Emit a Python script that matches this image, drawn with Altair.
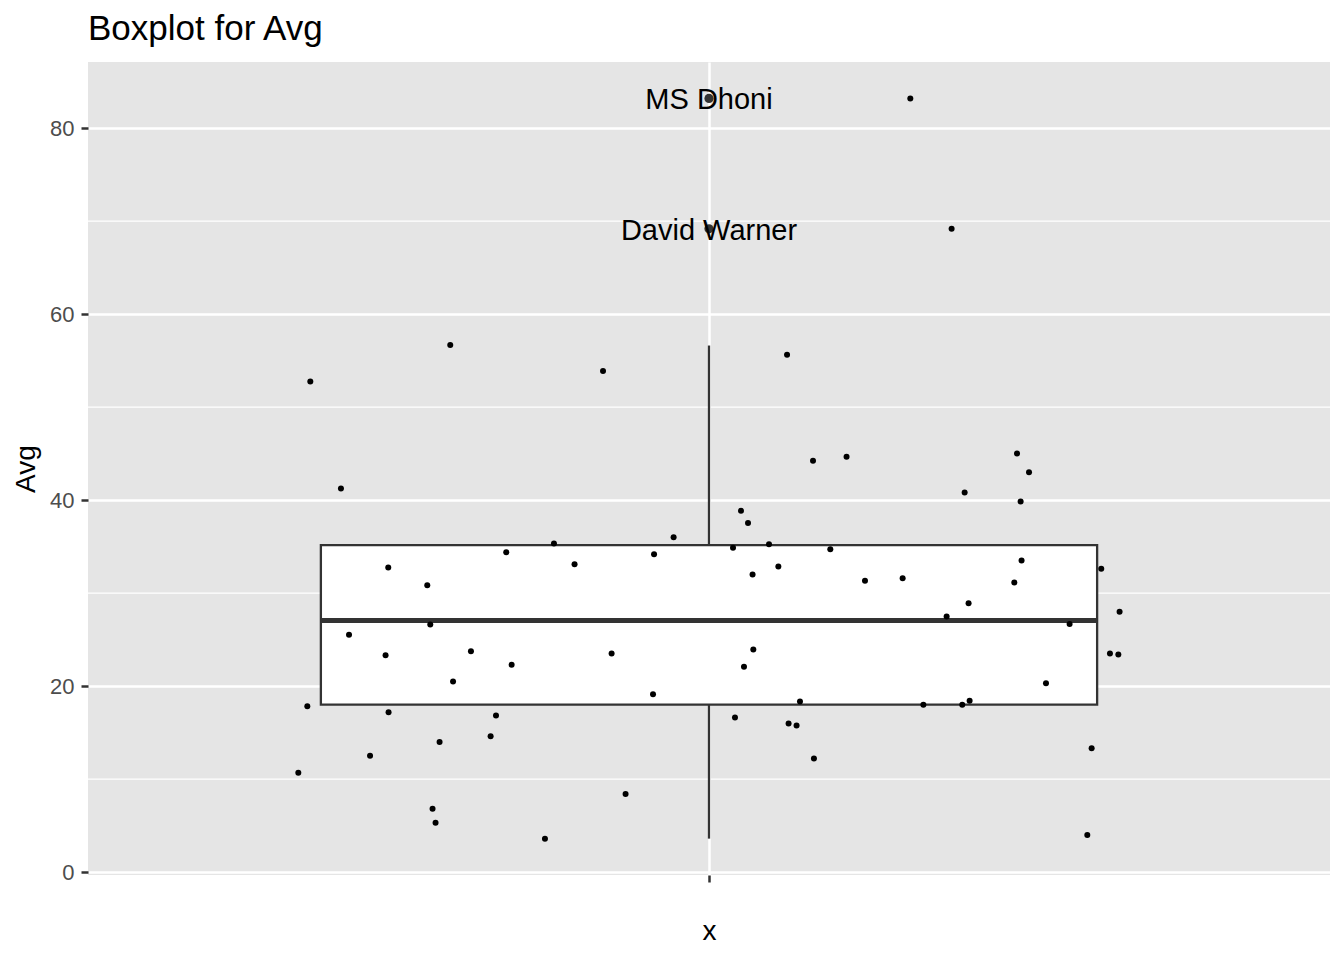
import altair as alt
import pandas as pd

# Jittered batting averages (offset from the box centre, value)
jitter_x = [0.1945, 0.2344, -0.3852, -0.2500, -0.1024, -0.3556, -0.3099, -0.2722,
            -0.1959, -0.1498, -0.1299, -0.0531, -0.0342, -0.3478, -0.2693, -0.3125,
            -0.2300, -0.1907, -0.2473, -0.0941, -0.0541, -0.3881, -0.3096, -0.2058,
            -0.2110, -0.2603, -0.3275, -0.3968, -0.0806, -0.2671, -0.2642, -0.1585,
            0.0754, 0.1005, 0.1329, 0.2976, 0.3092, 0.2470, 0.3011, 0.0309,
            0.0377, 0.0232, 0.0580, 0.1172, 0.0670, 0.0421, 0.1507, 0.1871,
            0.3020, 0.2950, 0.3790, 0.2508, 0.3967, 0.2296, 0.3484, 0.0428,
            0.0338, 0.3874, 0.3955, 0.3256, 0.0879, 0.2071, 0.2447, 0.2518,
            0.0251, 0.0769, 0.0846, 0.1014, 0.3697, 0.3655]
avg = [83.18, 69.17, 52.75, 56.67, 53.87, 41.25, 32.75, 30.86,
       34.41, 35.33, 33.12, 34.19, 36.02, 25.52, 26.62, 23.33,
       23.76, 22.29, 20.49, 23.51, 19.14, 17.85, 17.20, 16.84,
       14.62, 14.01, 12.51, 10.68, 8.42, 6.81, 5.33, 3.61,
       55.62, 44.23, 44.66, 45.01, 43.01, 40.82, 39.85, 38.85,
       37.53, 34.87, 35.27, 34.73, 32.86, 32.00, 31.32, 31.61,
       33.51, 31.14, 32.61, 28.92, 27.99, 27.48, 26.67, 23.94,
       22.08, 23.51, 23.40, 20.32, 18.34, 17.99, 17.99, 18.42,
       16.62, 15.98, 15.76, 12.22, 13.33, 4.01]

# Box summary
whisker_low = 3.61
q1 = 18.02
median = 27.05
q3 = 35.16
whisker_high = 56.62

outlier_names = ["MS Dhoni", "David Warner"]
outlier_avg = [83.18, 69.17]

major_breaks = [0, 20, 40, 60, 80]
minor_breaks = [10, 30, 50, 70]

font = "Liberation Sans"
half_box = 0.375

pts = pd.DataFrame({"jitter": jitter_x, "Avg": avg})
stats = pd.DataFrame({"pos": [0], "left": [-half_box], "right": [half_box],
                      "lower": [whisker_low], "q1": [q1], "median": [median],
                      "q3": [q3], "upper": [whisker_high]})
outliers = pd.DataFrame({"pos": [0] * len(outlier_names), "name": outlier_names, "Avg": outlier_avg})
minor = pd.DataFrame({"v": minor_breaks})

xscale = alt.Scale(domain=[-0.6, 0.6], nice=False, zero=False)
yscale = alt.Scale(domain=[-0.3, 87.1], nice=False, zero=False)
xaxis = alt.Axis(title="x", values=[0], labels=False, grid=True, gridColor="white",
                 gridWidth=2.5, tickSize=7, tickWidth=2.5, tickColor="#333333",
                 domain=False, titlePadding=34)
yaxis = alt.Axis(title="Avg", values=major_breaks, grid=True, gridColor="white",
                 gridWidth=2.5, tickSize=7, tickWidth=2.5, tickColor="#333333",
                 domain=False, labelPadding=7, titlePadding=9)

minor_grid = alt.Chart(minor).mark_rule(color="white", strokeWidth=1.2).encode(
    y=alt.Y("v:Q", scale=yscale, axis=yaxis)
)

box = alt.Chart(stats).mark_rect(fill="white", stroke="#333333", strokeWidth=2.3).encode(
    x=alt.X("left:Q", scale=xscale, axis=xaxis),
    x2="right:Q",
    y=alt.Y("q1:Q", scale=yscale, axis=yaxis),
    y2="q3:Q"
)

whisker_up = alt.Chart(stats).mark_rule(color="#333333", strokeWidth=2.3).encode(
    x=alt.X("pos:Q", scale=xscale, axis=xaxis),
    y=alt.Y("q3:Q", scale=yscale, axis=yaxis),
    y2="upper:Q"
)

whisker_down = alt.Chart(stats).mark_rule(color="#333333", strokeWidth=2.3).encode(
    x=alt.X("pos:Q", scale=xscale, axis=xaxis),
    y=alt.Y("lower:Q", scale=yscale, axis=yaxis),
    y2="q1:Q"
)

median_line = alt.Chart(stats).mark_rule(color="#333333", strokeWidth=5).encode(
    x=alt.X("left:Q", scale=xscale, axis=xaxis),
    x2="right:Q",
    y=alt.Y("median:Q", scale=yscale, axis=yaxis)
)

outlier_pts = alt.Chart(outliers).mark_circle(color="#333333", opacity=1, size=85).encode(
    x=alt.X("pos:Q", scale=xscale, axis=xaxis),
    y=alt.Y("Avg:Q", scale=yscale, axis=yaxis)
)

jitter_pts = alt.Chart(pts).mark_circle(color="black", opacity=1, size=36).encode(
    x=alt.X("jitter:Q", scale=xscale, axis=xaxis),
    y=alt.Y("Avg:Q", scale=yscale, axis=yaxis)
)

labels = alt.Chart(outliers).mark_text(font=font, fontSize=29, color="black",
                                       align="center", baseline="middle", dy=2).encode(
    x=alt.X("pos:Q", scale=xscale, axis=xaxis),
    y=alt.Y("Avg:Q", scale=yscale, axis=yaxis),
    text="name:N"
)

chart = alt.layer(minor_grid, box, whisker_up, whisker_down, median_line,
                  outlier_pts, jitter_pts, labels).properties(
    width=1242,
    height=813,
    autosize=alt.AutoSizeParams(type="none"),
    padding={"left": 80, "top": 54, "right": 0, "bottom": 70},
    title=alt.TitleParams("Boxplot for Avg", anchor="start", frame="group",
                          font=font, fontSize=35, fontWeight="normal",
                          color="black", baseline="alphabetic", offset=21, dy=34)
).configure_view(
    fill="#E5E5E5", stroke=None
).configure_axis(
    labelFont=font, labelFontSize=22, labelColor="#4D4D4D",
    titleFont=font, titleFontSize=28, titleFontWeight="normal", titleColor="black"
)

chart.save("out.html", embed_options={"renderer": "svg", "actions": False})
